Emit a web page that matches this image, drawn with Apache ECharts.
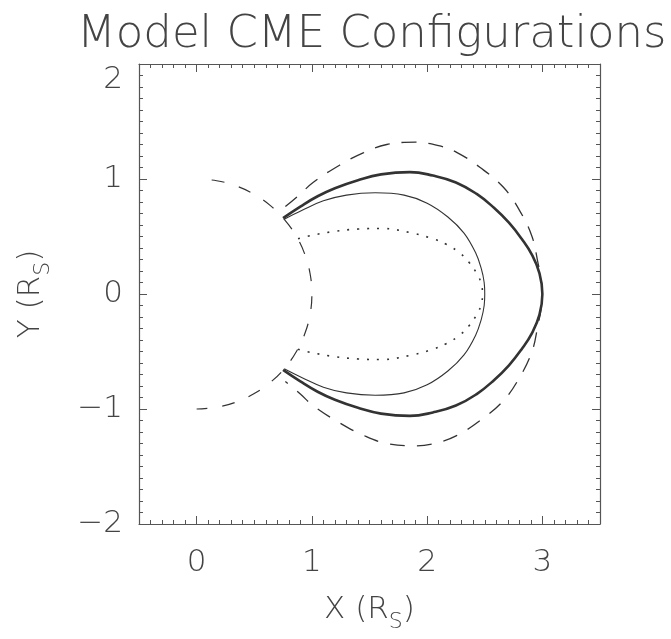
<!DOCTYPE html>
<html>
<head>
<meta charset="utf-8">
<script src="https://cdn.jsdelivr.net/npm/echarts@6/dist/echarts.min.js"></script>
<style>
  html, body { margin: 0; padding: 0; background: #ffffff; }
  #chart { width: 671px; height: 639px; }
</style>
</head>
<body>
<div id="chart"></div>
<script>
// ---------- data ----------
const titleText = 'Model CME Configurations';
const xMajorTicks = [0, 1, 2, 3];
const yMajorTicks = [-2, -1, 0, 1, 2];

// Solar limb (dashed half circle)
const sunX = [0, 0.174, 0.342, 0.5, 0.643, 0.766, 0.866, 0.940, 0.985, 1, 0.985, 0.940, 0.866, 0.766, 0.643, 0.5, 0.342, 0.174, 0];
const sunY = [1, 0.985, 0.940, 0.866, 0.766, 0.643, 0.5, 0.342, 0.174, 0, -0.174, -0.342, -0.5, -0.643, -0.766, -0.866, -0.940, -0.985, -1];

// Outer dashed configuration
const outerX = [0.77, 0.90, 1.01, 1.24, 1.45, 1.65, 1.90, 2.10, 2.26, 2.46, 2.66, 2.80, 2.91, 2.96, 2.99, 3.00, 2.99, 2.96, 2.91, 2.80, 2.66, 2.46, 2.26, 2.10, 1.90, 1.65, 1.45, 1.24, 1.01, 0.90, 0.77];
const outerY = [0.76, 0.87, 0.97, 1.12, 1.23, 1.30, 1.32, 1.29, 1.23, 1.10, 0.93, 0.73, 0.50, 0.28, 0.12, 0.00, -0.12, -0.28, -0.50, -0.73, -0.93, -1.10, -1.23, -1.29, -1.32, -1.30, -1.23, -1.12, -0.97, -0.87, -0.76];

// Thick solid configuration
const thickX = [0.75, 0.90, 1.05, 1.20, 1.40, 1.60, 1.85, 2.05, 2.25, 2.43, 2.58, 2.71, 2.82, 2.91, 2.975, 3.00, 2.975, 2.91, 2.82, 2.71, 2.58, 2.43, 2.25, 2.05, 1.85, 1.60, 1.40, 1.20, 1.05, 0.90, 0.75];
const thickY = [0.66, 0.76, 0.85, 0.92, 0.99, 1.04, 1.06, 1.03, 0.97, 0.87, 0.75, 0.62, 0.48, 0.34, 0.18, 0.00, -0.18, -0.34, -0.48, -0.62, -0.75, -0.87, -0.97, -1.03, -1.06, -1.04, -0.99, -0.92, -0.85, -0.76, -0.66];

// Thin solid configuration
const thinX = [0.76, 0.92, 1.10, 1.30, 1.55, 1.80, 2.00, 2.18, 2.32, 2.42, 2.47, 2.495, 2.50, 2.495, 2.47, 2.42, 2.32, 2.18, 2.00, 1.80, 1.55, 1.30, 1.10, 0.92, 0.76];
const thinY = [0.65, 0.73, 0.81, 0.86, 0.88, 0.86, 0.79, 0.67, 0.53, 0.36, 0.22, 0.10, 0.00, -0.10, -0.22, -0.36, -0.53, -0.67, -0.79, -0.86, -0.88, -0.86, -0.81, -0.73, -0.65];

// Dotted configuration
const dotX = [0.88, 1.00, 1.20, 1.40, 1.60, 1.87, 2.05, 2.17, 2.28, 2.36, 2.43, 2.47, 2.48, 2.47, 2.43, 2.36, 2.28, 2.17, 2.05, 1.87, 1.60, 1.40, 1.20, 1.00, 0.88];
const dotY = [0.48, 0.51, 0.545, 0.565, 0.57, 0.53, 0.48, 0.43, 0.36, 0.28, 0.18, 0.09, 0.00, -0.09, -0.18, -0.28, -0.36, -0.43, -0.48, -0.53, -0.57, -0.565, -0.545, -0.51, -0.48];

// ---------- helpers ----------
const pairs = (xs, ys) => xs.map((x, i) => [x, ys[i]]);
const FONT = 'DejaVu Sans';
const TXT = '#444444';
const AX = '#555555';
const LINE = '#333333';
const grid = { left: 139, right: 71, top: 64, bottom: 115 };
const fmt = v => (v < 0 ? '\u2212' + Math.abs(v) : String(v));

const minorX = (pos) => ({
  gridIndex: 0, type: 'value', min: -0.5, max: 3.5, interval: 0.1, position: pos,
  axisLine: { show: true, onZero: false, lineStyle: { color: AX, width: 1.2 } },
  axisTick: { show: true, inside: true, length: 4, lineStyle: { color: AX, width: 1 } },
  axisLabel: { show: false }, splitLine: { show: false }
});
const minorY = (pos) => ({
  gridIndex: 0, type: 'value', min: -2, max: 2, interval: 0.1, position: pos,
  axisLine: { show: true, onZero: false, lineStyle: { color: AX, width: 1.2 } },
  axisTick: { show: true, inside: true, length: 4, lineStyle: { color: AX, width: 1 } },
  axisLabel: { show: false }, splitLine: { show: false }
});
const nameRich = {
  a: { fontFamily: FONT, fontWeight: 200, fontSize: 31, color: TXT, lineHeight: 46, verticalAlign: 'middle' },
  s: { fontFamily: FONT, fontWeight: 200, fontSize: 22, color: TXT, lineHeight: 22, verticalAlign: 'middle', padding: [24, 0, 0, 0] }
};

const chart = echarts.init(document.getElementById('chart'), null, { renderer: 'canvas' });
const option = {
  animation: false,
  backgroundColor: '#ffffff',
  title: {
    text: titleText, left: 72, top: 8,
    textStyle: { fontFamily: FONT, fontWeight: 200, fontSize: 45, color: TXT }
  },
  grid: [grid, Object.assign({}, grid)],
  xAxis: [
    minorX('bottom'),
    minorX('top'),
    {
      gridIndex: 1, type: 'value', min: -0.5, max: 3.5, interval: 0.5, position: 'bottom',
      axisLine: { show: false, onZero: false },
      axisTick: { show: true, inside: true, length: 8, customValues: xMajorTicks, lineStyle: { color: AX, width: 1 } },
      axisLabel: { show: true, customValues: xMajorTicks, margin: 23, formatter: fmt,
        fontFamily: FONT, fontWeight: 200, fontSize: 31, color: TXT },
      splitLine: { show: false },
      name: '{a|X (R}{s|S}{a|)}', nameLocation: 'middle', nameGap: 63,
      nameTextStyle: { fontFamily: FONT, fontWeight: 200, fontSize: 31, color: TXT, rich: nameRich }
    },
    {
      gridIndex: 1, type: 'value', min: -0.5, max: 3.5, interval: 0.5, position: 'top',
      axisLine: { show: false, onZero: false },
      axisTick: { show: true, inside: true, length: 8, customValues: xMajorTicks, lineStyle: { color: AX, width: 1 } },
      axisLabel: { show: false }, splitLine: { show: false }
    }
  ],
  yAxis: [
    minorY('left'),
    minorY('right'),
    {
      gridIndex: 1, type: 'value', min: -2, max: 2, interval: 1, position: 'left',
      axisLine: { show: false, onZero: false },
      axisTick: { show: true, inside: true, length: 8, customValues: yMajorTicks, lineStyle: { color: AX, width: 1 } },
      axisLabel: { show: true, margin: 16, formatter: fmt, verticalAlignMaxLabel: 'top',
        fontFamily: FONT, fontWeight: 200, fontSize: 31, color: TXT },
      splitLine: { show: false },
      name: '{a|Y (R}{s|S}{a|)}', nameLocation: 'middle', nameGap: 85,
      nameTextStyle: { fontFamily: FONT, fontWeight: 200, fontSize: 31, color: TXT, rich: nameRich }
    },
    {
      gridIndex: 1, type: 'value', min: -2, max: 2, interval: 1, position: 'right',
      axisLine: { show: false, onZero: false },
      axisTick: { show: true, inside: true, length: 8, customValues: yMajorTicks, lineStyle: { color: AX, width: 1 } },
      axisLabel: { show: false }, splitLine: { show: false }
    }
  ],
  series: [
    { name: 'Sun', type: 'line', xAxisIndex: 0, yAxisIndex: 0, data: pairs(sunX, sunY),
      smooth: 0.4, showSymbol: false, symbol: 'none',
      lineStyle: { color: LINE, width: 1.2, type: [13, 15], dashOffset: 13 } },
    { name: 'Outer', type: 'line', xAxisIndex: 0, yAxisIndex: 0, data: pairs(outerX, outerY),
      smooth: 0.4, showSymbol: false, symbol: 'none',
      lineStyle: { color: LINE, width: 1.3, type: [15, 12] } },
    { name: 'Thick', type: 'line', xAxisIndex: 0, yAxisIndex: 0, data: pairs(thickX, thickY),
      smooth: 0.45, showSymbol: false, symbol: 'none',
      lineStyle: { color: LINE, width: 2.6, type: 'solid' } },
    { name: 'Thin', type: 'line', xAxisIndex: 0, yAxisIndex: 0, data: pairs(thinX, thinY),
      smooth: 0.4, showSymbol: false, symbol: 'none',
      lineStyle: { color: LINE, width: 1.1, type: 'solid' } },
    { name: 'Dotted', type: 'line', xAxisIndex: 0, yAxisIndex: 0, data: pairs(dotX, dotY),
      smooth: 0.4, showSymbol: false, symbol: 'none',
      lineStyle: { color: LINE, width: 1.6, type: [2, 8] } }
  ]
};
chart.setOption(option);
</script>
</body>
</html>
